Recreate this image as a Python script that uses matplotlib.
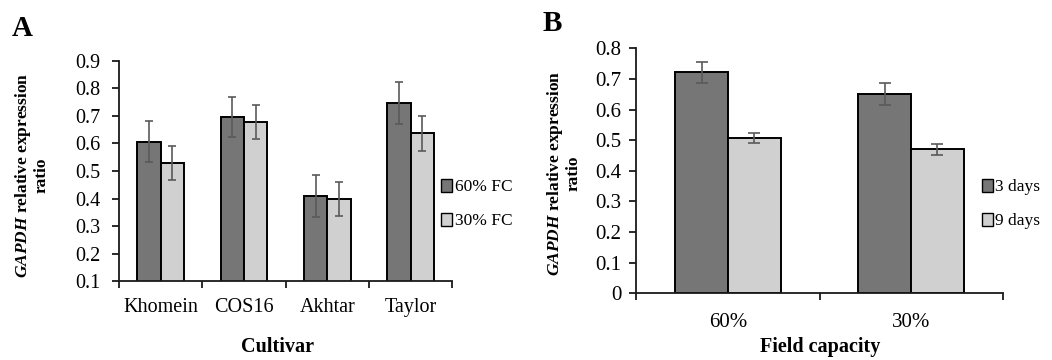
import numpy as np
import matplotlib.pyplot as plt
from matplotlib.patches import Patch

# Panel A data
cultivars = ["Khomein", "COS16", "Akhtar", "Taylor"]
fc60 = [0.607, 0.697, 0.409, 0.747]
fc60_err = [0.074, 0.073, 0.075, 0.077]
fc30 = [0.528, 0.678, 0.399, 0.637]
fc30_err = [0.062, 0.063, 0.062, 0.063]

# Panel B data
capacities = ["60%", "30%"]
days3 = [0.722, 0.650]
days3_err = [0.034, 0.036]
days9 = [0.507, 0.470]
days9_err = [0.017, 0.019]

DARK = "#767676"
LIGHT = "#d0d0d0"
ERR = "#5a5a5a"
AXC = "#1a1a1a"

plt.rcParams["font.family"] = ["Liberation Serif", "DejaVu Serif"]
plt.rcParams["mathtext.fontset"] = "custom"
plt.rcParams["mathtext.it"] = "Liberation Serif:bold:italic"
plt.rcParams["mathtext.rm"] = "Liberation Serif:bold"

fig = plt.figure(figsize=(10.52, 3.6), dpi=100)
YLAB = "$\\mathit{GAPDH}$ relative expression\nratio"


def style_axes(ax, n, ylim, yticks, fs, xpad, ypad):
    ax.set_xlim(-0.5, n - 0.5)
    ax.set_ylim(*ylim)
    ax.set_yticks(yticks)
    ax.set_yticklabels([f"{t:g}" for t in yticks], fontsize=fs)
    for s in ["top", "right"]:
        ax.spines[s].set_visible(False)
    for s in ["left", "bottom"]:
        ax.spines[s].set_linewidth(1.3)
        ax.spines[s].set_color(AXC)
    # ticks between the groups, labels centred under them
    ax.set_xticks(np.arange(n + 1) - 0.5)
    ax.set_xticklabels([])
    ax.set_xticks(np.arange(n), minor=True)
    ax.tick_params(axis="x", which="major", direction="out", length=5, width=1.3, color=AXC)
    ax.tick_params(axis="x", which="minor", length=0, labelsize=fs, pad=xpad)
    ax.tick_params(axis="y", direction="out", length=5, width=1.3, pad=ypad, color=AXC)


# ---- A ----
ax1 = fig.add_axes([0.113, 0.219, 0.317, 0.612])
x = np.arange(len(cultivars))
w = 0.28
ax1.bar(x - w / 2, fc60, w, color=DARK, edgecolor="black", linewidth=1.4,
        yerr=fc60_err, error_kw=dict(ecolor=ERR, elinewidth=1.2, capsize=2.8, capthick=1.2))
ax1.bar(x + w / 2, fc30, w, color=LIGHT, edgecolor="black", linewidth=1.4,
        yerr=fc30_err, error_kw=dict(ecolor=ERR, elinewidth=1.2, capsize=2.8, capthick=1.2))
style_axes(ax1, len(cultivars), (0.1, 0.9), np.arange(0.1, 0.95, 0.1), 14.5, 12, 8)
ax1.set_xticklabels(cultivars, minor=True)
fig.text(278 / 1052, 1 - 347 / 360, "Cultivar", fontsize=14.5, fontweight="bold",
         ha="center", va="center")
fig.text(31 / 1052, 1 - 175 / 360, YLAB, fontsize=12.5, fontweight="bold", rotation=90,
         ha="center", va="center", multialignment="center", linespacing=1.05)
ax1.legend(handles=[Patch(facecolor=DARK, edgecolor="black", label="60% FC"),
                    Patch(facecolor=LIGHT, edgecolor="black", label="30% FC")],
           loc="center left", bbox_to_anchor=(0.419, 0.433), bbox_transform=fig.transFigure,
           frameon=False, fontsize=12.5, handlelength=0.65, handleheight=0.75,
           handletextpad=0.15, labelspacing=1.0, borderaxespad=0, borderpad=0)
fig.text(0.011, 0.92, "A", fontsize=21, fontweight="bold", va="center")

# ---- B ----
ax2 = fig.add_axes([0.605, 0.185, 0.348, 0.681])
x = np.arange(len(capacities))
w = 0.287
ax2.bar(x - w / 2, days3, w, color=DARK, edgecolor="black", linewidth=1.4,
        yerr=days3_err, error_kw=dict(ecolor=ERR, elinewidth=1.2, capsize=4.5, capthick=1.2))
ax2.bar(x + w / 2, days9, w, color=LIGHT, edgecolor="black", linewidth=1.4,
        yerr=days9_err, error_kw=dict(ecolor=ERR, elinewidth=1.2, capsize=4.5, capthick=1.2))
style_axes(ax2, len(capacities), (0, 0.8), np.arange(0, 0.85, 0.1), 15, 14, 6)
ax2.set_xticklabels(capacities, minor=True)
fig.text(820 / 1052, 1 - 347 / 360, "Field capacity", fontsize=14.5, fontweight="bold",
         ha="center", va="center")
fig.text(563 / 1052, 1 - 173 / 360, YLAB, fontsize=12.5, fontweight="bold", rotation=90,
         ha="center", va="center", multialignment="center", linespacing=1.05)
ax2.legend(handles=[Patch(facecolor=DARK, edgecolor="black", label="3 days"),
                    Patch(facecolor=LIGHT, edgecolor="black", label="9 days")],
           loc="center left", bbox_to_anchor=(0.933, 0.433), bbox_transform=fig.transFigure,
           frameon=False, fontsize=12.5, handlelength=0.65, handleheight=0.75,
           handletextpad=0.15, labelspacing=1.0, borderaxespad=0, borderpad=0)
fig.text(0.516, 0.935, "B", fontsize=21, fontweight="bold", va="center")

fig.savefig("out.png", dpi=100)
